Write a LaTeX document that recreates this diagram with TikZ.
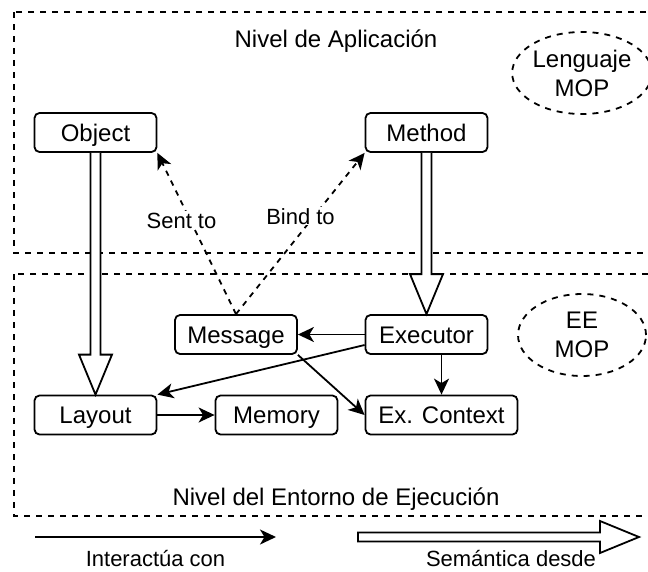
\documentclass[tikz,border=0pt]{standalone}
\usepackage{fontspec}
\setmainfont{Liberation Sans}
\usetikzlibrary{arrows.meta,shapes.geometric,calc}
\begin{document}
\begin{tikzpicture}[x=1pt,y=-1pt,
  lw/.style={line width=1.8pt},
  box/.style={draw,lw,rounded corners=5pt,minimum width=122pt,minimum height=39pt,inner sep=0pt,
    font=\fontsize{24}{29}\selectfont,text height=17pt,text depth=0pt},
  level/.style={draw,lw,dash pattern=on 6pt off 6pt},
  cloud/.style={draw,lw,dash pattern=on 6pt off 6pt,ellipse,minimum width=128pt,minimum height=82pt,inner sep=0pt,
    align=center,font=\fontsize{24}{29}\selectfont},
  title/.style={inner sep=0pt,anchor=base,font=\fontsize{24}{29}\selectfont},
  lbl/.style={fill=white,inner sep=1pt,font=\fontsize{22}{26}\selectfont,text height=16pt,text depth=0pt},
  leg/.style={inner sep=0pt,anchor=base,font=\fontsize{22}{26}\selectfont},
  tip/.style={-{Stealth[length=16pt,width=15pt,inset=4.5pt]}},
  link/.style={lw,tip},
  dlink/.style={lw,tip,dash pattern=on 5.5pt off 5.5pt},
  hollow/.style={draw,lw,fill=white,line join=miter}]
\clip (0,0) rectangle (648,571);
\fill[white] (0,0) rectangle (648,571);

% levels
\draw[level] (14,12) rectangle (665,253);
\draw[level] (14,274) rectangle (665,516);
\node[title] (tapp) at (336,47) {Nivel de Aplicación};
\node[title] (tee) at (336,505) {Nivel del Entorno de Ejecución};
\node[cloud] (lmop) at (582,73) {Lenguaje\\MOP};
\node[cloud] (eemop) at (582,335) {EE\\MOP};

% boxes
\node[box] (obj) at (95.5,132.5) {Object};
\node[box] (met) at (426.5,132.5) {Method};
\node[box] (msg) at (236,334.5) {Message};
\node[box] (exe) at (426.5,334.5) {Executor};
\node[box] (lay) at (95.5,415) {Layout};
\node[box] (mem) at (276.5,415) {Memory};
\node[box,minimum width=152pt] (ex) at (441.5,415) {Ex. Context};

% hollow semantic arrows
\path[hollow] ($(obj.south)+(-5,0)$) -- ($(lay.north)+(-5,-40)$) -- ($(lay.north)+(-16.5,-40)$) -- (lay.north)
  -- ($(lay.north)+(16.5,-40)$) -- ($(lay.north)+(5,-40)$) -- ($(obj.south)+(5,0)$);
\path[hollow] ($(met.south)+(-5,0)$) -- ($(exe.north)+(-5,-40)$) -- ($(exe.north)+(-16.5,-40)$) -- (exe.north)
  -- ($(exe.north)+(16.5,-40)$) -- ($(exe.north)+(5,-40)$) -- ($(met.south)+(5,0)$);

% dashed links
\draw[dlink] (msg.north) -- (obj.south east);
\draw[dlink] (msg.north) -- (met.south west);
\node[lbl] (sent) at (181.5,220) {Sent to};
\node[lbl] (bind) at (300.5,216) {Bind to};

% solid links
\draw[link] (exe.west) -- (msg.east);
\draw[link] ($(exe.west)+(0,10.5)$) -- (lay.north east);
\draw[link] (msg.south east) -- (ex.west);
\draw[link] (ex.north |- exe.south) -- (ex.north);
\draw[link] (lay.east) -- (mem.west);

% legend
\coordinate (l1a) at (35,537);
\coordinate (l1b) at (276,537);
\draw[link] (l1a) -- (l1b);
\coordinate (l2a) at (358,537);
\coordinate (l2b) at (639,537);
\path[hollow] ($(l2a)+(0,-4.5)$) -- ($(l2b)+(-39,-4.5)$) -- ($(l2b)+(-39,-16)$) -- (l2b)
  -- ($(l2b)+(-39,16)$) -- ($(l2b)+(-39,4.5)$) -- ($(l2a)+(0,4.5)$) -- cycle;
\node[leg] (li) at (155.5,566.5) {Interactúa con};
\node[leg] (ls) at (511,566.5) {Semántica desde};
\end{tikzpicture}
\end{document}
